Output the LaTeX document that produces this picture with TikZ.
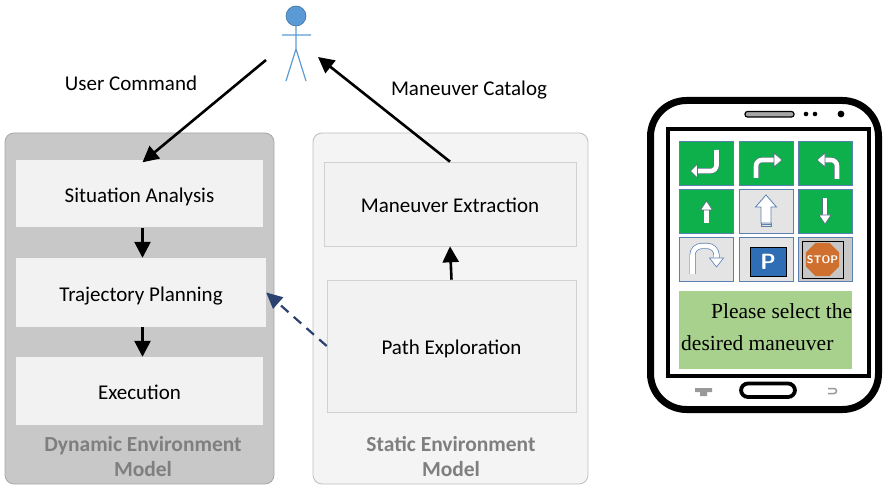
\documentclass[tikz,border=0pt]{standalone}
\usepackage{fontspec}
\setmainfont{Carlito}
\newfontfamily\phonefont{Liberation Serif}
\usepackage{xcolor}
\usetikzlibrary{arrows.meta,shapes.geometric}

\definecolor{dynfill}{HTML}{C8C8C8}
\definecolor{dynline}{HTML}{A8A8A8}
\definecolor{statfill}{HTML}{F4F4F4}
\definecolor{statline}{HTML}{BEBEBE}
\definecolor{boxfill}{HTML}{F2F2F2}
\definecolor{titlegray}{HTML}{7F7F7F}
\definecolor{navy}{HTML}{2B4270}
\definecolor{actorfill}{HTML}{5B9BD5}
\definecolor{actorline}{HTML}{41719C}
\definecolor{tilegreen}{HTML}{0DB04B}
\definecolor{tilegray}{HTML}{E4E4E4}
\definecolor{tileline}{HTML}{5B7FB0}
\definecolor{signline}{HTML}{5A6E80}
\definecolor{pblue}{HTML}{2F6DB5}
\definecolor{stoporange}{HTML}{D0702E}
\definecolor{msgfill}{HTML}{A9D18E}

\begin{document}
\begin{tikzpicture}[x=1pt, y=-1pt,
    panel/.style={rectangle, rounded corners=9pt, line width=0.8pt},
    stepbox/.style={rectangle, fill=boxfill, inner sep=0pt, text height=22pt, text depth=4.5pt, font=\fontsize{21}{24}\selectfont},
    paneltitle/.style={align=center, text=titlegray, font=\bfseries\fontsize{21.5}{25}\selectfont},
    label/.style={font=\fontsize{21}{24}\selectfont},
    arrow/.style={-{Triangle[length=16pt,width=16pt]}, line width=2.6pt, draw=black},
    dasharrow/.style={-{Triangle[length=16pt,width=15pt]}, line width=2.2pt, draw=navy, dash pattern=on 10pt off 7pt},
    tile/.style={draw=tileline, line width=0.7pt},
    sign/.style={draw=signline, line width=0.6pt, double=white, double distance=4.6pt},
    signhead/.style={fill=white, draw=signline, line width=0.6pt}
]
\useasboundingbox (0,0) rectangle (883,486);

% the user
\fill[actorfill, draw=actorline, line width=0.6pt] (296,16) circle (10);
\draw[actorfill, line width=1.2pt] (296,26) -- (296,49) (282,35) -- (311,35)
    (286,81) -- (296,49) -- (306,81);
\coordinate (userL) at (266,60);
\coordinate (userR) at (318,57);

% environment models
\node[panel, fill=dynfill, draw=dynline, minimum width=269pt, minimum height=351pt] (dyn) at (139.5,308.5) {};
\node[panel, fill=statfill, draw=statline, minimum width=275pt, minimum height=351pt] (stat) at (450.5,308.5) {};

\node[stepbox, minimum width=247pt, minimum height=67pt] (sit) at (139.5,194) {Situation Analysis};
\node[stepbox, minimum width=250pt, minimum height=69pt] (traj) at (141,292.5) {Trajectory Planning};
\node[stepbox, minimum width=247pt, minimum height=68pt] (exe) at (139.5,391) {Execution};

\node[stepbox, draw=statline!70, line width=0.6pt, minimum width=252pt, minimum height=84pt] (ext) at (450,204) {Maneuver Extraction};
\node[stepbox, draw=statline!70, line width=0.6pt, minimum width=249pt, minimum height=132pt] (path) at (451.5,346) {Path Exploration};

\node[paneltitle] (dyntitle) at (143,457) {Dynamic Environment\\Model};
\node[paneltitle] (stattitle) at (451,457) {Static Environment\\Model};

% connectors
\draw[arrow] (userL) -- ([xshift=3pt,yshift=-2pt]sit.north);
\draw[arrow] (ext.north) -- (userR);
\draw[arrow] ([xshift=3pt]sit.south) -- ([xshift=1.5pt]traj.north);
\draw[arrow] ([xshift=1.5pt]traj.south) -- ([xshift=3pt]exe.north);
\draw[arrow] (path.north) -- (ext.south);
\draw[dasharrow] (path.west) -- (traj.east);

\node[label] (cmd) at (131,83) {User Command};
\node[label] (catalog) at (469,90) {Maneuver Catalog};

% the phone
\draw[line width=7pt, fill=white, rounded corners=36pt] (650.5,100.5) rectangle (878.5,409.5);
\draw[line width=4pt] (668,129) rectangle (869,376);
\draw[fill=gray!70, line width=1.2pt, rounded corners=2.5pt] (745,111.5) rectangle (794,117);
\fill (806,114) circle (2.3) (815,114) circle (2.3) (841,114) circle (3.4);
\draw[line width=3.8pt, rounded corners=7pt] (741,383.5) rectangle (795,397);
\fill[gray!80] (695,388) rectangle (712,392) (700,392) rectangle (707,396);
\draw[gray!80, line width=1.5pt] (828,388.5) -- (834,388.5) arc[start angle=-90, end angle=90, radius=2.5] -- (828,393.5);

% tiles
\foreach \cx/\cy/\col in {706.5/163/tilegreen, 766/163/tilegreen, 825/163/tilegreen,
    706.5/211/tilegreen, 766/211/tilegray, 825/211/tilegreen,
    706.5/259/tilegray, 766/259/tilegray, 825/259/dynfill}
  \draw[tile, fill=\col] (\cx-27,\cy-22) rectangle (\cx+27,\cy+22);

\begin{scope}[shift={(706.5,163)}]
  \draw[sign, rounded corners=6pt] (10,-13) -- (10,8) -- (-9,8);
  \draw[signhead] (-9,1) -- (-16,8) -- (-9,15) -- cycle;
\end{scope}
\begin{scope}[shift={(766,163)}]
  \draw[sign, rounded corners=6pt] (-10,15) -- (-10,-3) -- (8,-3);
  \draw[signhead] (8,-10) -- (16,-3) -- (8,4) -- cycle;
\end{scope}
\begin{scope}[shift={(825,163)}]
  \draw[sign, rounded corners=6pt] (12,16) -- (12,-3) -- (0,-3);
  \draw[signhead] (0,-10) -- (-8,-3) -- (0,4) -- cycle;
\end{scope}
\begin{scope}[shift={(706.5,211)}]
  \draw[sign] (0,12) -- (0,-1);
  \draw[signhead] (-6,-1) -- (0,-10) -- (6,-1) -- cycle;
\end{scope}
\begin{scope}[shift={(766,211)}]
  \draw[tileline, fill=white, line width=0.8pt] (-5,12) -- (-5,-4) -- (-10.5,-4) -- (0,-16)
      -- (10.5,-4) -- (5,-4) -- (5,12) -- cycle;
  \draw[tileline, line width=0.8pt] (-5,12) -- (-5,15) -- (5,15) -- (5,12) (-5,13.5) -- (5,13.5);
\end{scope}
\begin{scope}[shift={(825,211)}]
  \draw[sign] (0,-13) -- (0,4);
  \draw[signhead] (-6,4) -- (0,13) -- (6,4) -- cycle;
\end{scope}
\begin{scope}[shift={(706.5,259)}]
  \draw[draw=tileline, line width=0.7pt, double=white, double distance=4.6pt, rounded corners=9pt]
      (-14,15) -- (-14,-13) -- (10,-13) -- (10,-1);
  \draw[signhead, draw=tileline] (3,-1) -- (10,8) -- (17,-1) -- cycle;
\end{scope}
\begin{scope}[shift={(766,259)}]
  \node[rectangle, fill=pblue, draw=black, line width=1pt, minimum width=36pt, minimum height=29pt,
      text=white, font=\sffamily\bfseries\fontsize{22}{22}\selectfont, inner sep=0pt] (parking) at (2,3) {P};
\end{scope}
\begin{scope}[shift={(822.5,259.5)}]
  \draw[fill=gray!45, line width=0.9pt] (-20.5,-18.5) rectangle (20.5,18.5);
  \fill[stoporange, rotate=22.5] (0:18) \foreach \a in {45,90,...,315} { -- (\a:18)} -- cycle;
  \node[text=white, inner sep=0pt, font=\sffamily\bfseries\fontsize{11}{11}\selectfont] (stop) at (0,0) {STOP};
\end{scope}

% message on the screen
\fill[msgfill] (679,291) rectangle (852,369);
\node[anchor=base west, inner sep=0pt, font=\phonefont\fontsize{21.5}{24}\selectfont] (msg1) at (711,318) {Please select the};
\node[anchor=base west, inner sep=0pt, font=\phonefont\fontsize{21.5}{24}\selectfont] (msg2) at (681,350) {desired maneuver};
\end{tikzpicture}
\end{document}
